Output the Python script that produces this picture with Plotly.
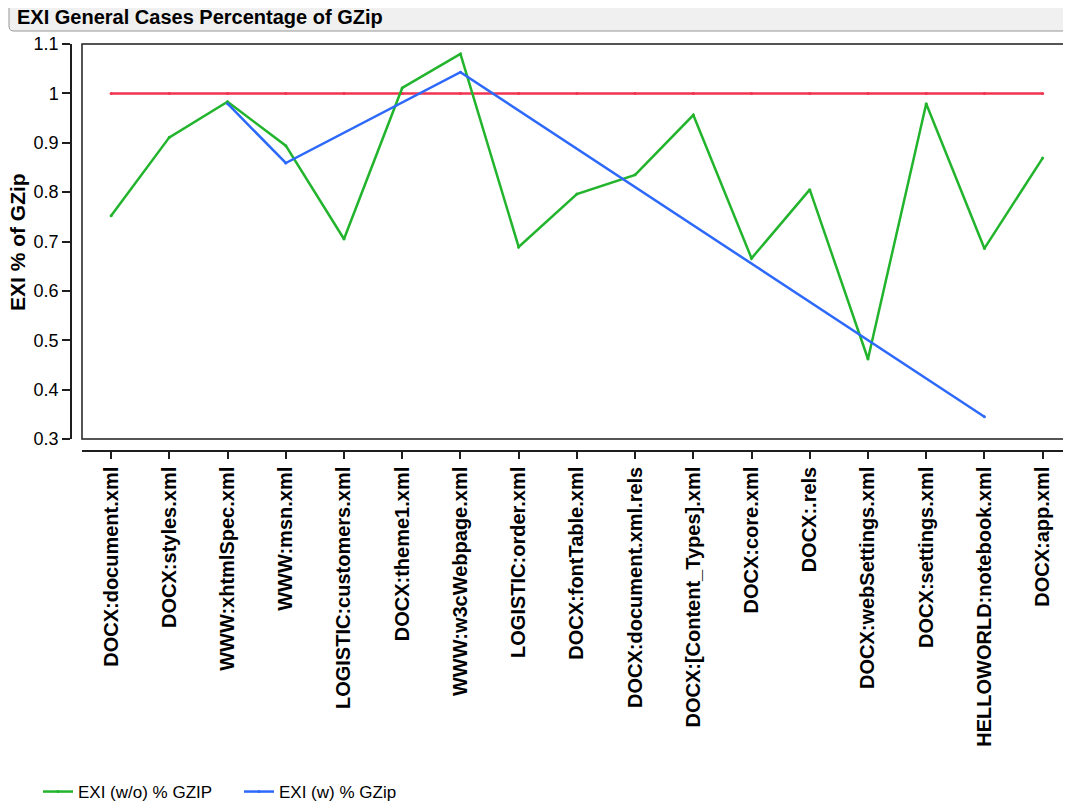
import plotly.graph_objects as go

categories = ["DOCX:document.xml", "DOCX:styles.xml", "WWW:xhtmlSpec.xml", "WWW:msn.xml",
              "LOGISTIC:customers.xml", "DOCX:theme1.xml", "WWW:w3cWebpage.xml", "LOGISTIC:order.xml",
              "DOCX:fontTable.xml", "DOCX:document.xml.rels", "DOCX:[Content_Types].xml", "DOCX:core.xml",
              "DOCX:.rels", "DOCX:webSettings.xml", "DOCX:settings.xml", "HELLOWORLD:notebook.xml",
              "DOCX:app.xml"]
exi_wo = [0.752, 0.911, 0.983, 0.894, 0.705, 1.011, 1.080, 0.689, 0.796, 0.835, 0.956, 0.666,
          0.805, 0.462, 0.979, 0.686, 0.869]
exi_w = [None, None, 0.979, 0.859, None, None, 1.043, None, None, None, None, None,
         None, None, None, 0.345, None]
gzip = [1.0] * 17

GREEN = "rgb(34,180,44)"
BLUE = "rgb(45,105,250)"
RED = "rgb(240,52,80)"
FONT = "Liberation Sans, Arial, sans-serif"

# the page body has an 8px margin; screen coordinates are offset by it
OFF = 8
W, H = 1071 - OFF, 805 - OFF
ML, MR, MT, MB = 12, 0, 36, 330
PW = W - ML - MR
PH = H - MT - MB


def px_x(p):  # screen pixel -> paper x
    return (p - OFF - ML) / PW


def px_y(p):  # screen pixel -> paper y
    return (H - MB - (p - OFF)) / PH


fig = go.Figure()
fig.add_trace(go.Scatter(x=categories, y=gzip, mode="lines+markers", name="GZip",
                         line=dict(color=RED, width=2.5), marker=dict(size=3, color=RED),
                         showlegend=False))
fig.add_trace(go.Scatter(x=categories, y=exi_wo, mode="lines+markers", name="EXI (w/o) % GZIP",
                         line=dict(color=GREEN, width=2.5), marker=dict(size=3, color=GREEN)))
fig.add_trace(go.Scatter(x=categories, y=exi_w, mode="lines+markers", name="EXI (w) % GZip",
                         connectgaps=True,
                         line=dict(color=BLUE, width=2.5), marker=dict(size=3, color=BLUE)))

# title box (rounded)
x0, x1, y0, y1, r = 9, 1080, 3, 31, 5
path = (f"M {px_x(x0 + r)},{px_y(y0)} L {px_x(x1 - r)},{px_y(y0)} "
        f"Q {px_x(x1)},{px_y(y0)} {px_x(x1)},{px_y(y0 + r)} L {px_x(x1)},{px_y(y1 - r)} "
        f"Q {px_x(x1)},{px_y(y1)} {px_x(x1 - r)},{px_y(y1)} L {px_x(x0 + r)},{px_y(y1)} "
        f"Q {px_x(x0)},{px_y(y1)} {px_x(x0)},{px_y(y1 - r)} L {px_x(x0)},{px_y(y0 + r)} "
        f"Q {px_x(x0)},{px_y(y0)} {px_x(x0 + r)},{px_y(y0)} Z")
fig.add_shape(type="path", path=path, xref="paper", yref="paper",
              fillcolor="rgb(240,240,240)", line=dict(color="rgb(150,150,150)", width=1), layer="below")

# plot frame
fig.add_shape(type="rect", xref="x domain", yref="y domain", x0=0, x1=1, y0=0, y1=1,
              line=dict(color="rgb(30,30,30)", width=1.5))

fig.update_layout(
    width=W, height=H,
    margin=dict(l=ML, r=MR, t=MT, b=MB, autoexpand=False),
    plot_bgcolor="white", paper_bgcolor="white",
    font=dict(family=FONT, color="black"),
    title=dict(text="EXI General Cases Percentage of GZip", x=(17 - OFF) / W, xanchor="left",
               y=1 - (17 - OFF) / H, yanchor="middle", xref="container", yref="container",
               automargin=False,
               font=dict(size=20, weight="bold", color="black", family=FONT)),
    xaxis=dict(type="category", categoryorder="array", categoryarray=categories,
               range=[-0.5, 16.47], domain=[px_x(82), px_x(1070)],
               anchor="free", position=px_y(451), automargin=False,
               showline=True, linecolor="rgb(30,30,30)", linewidth=1.5,
               ticks="outside", ticklen=7, tickwidth=1.5, tickcolor="rgb(30,30,30)",
               tickangle=-90, tickfont=dict(size=20, weight="bold", family=FONT),
               showgrid=False, zeroline=False),
    yaxis=dict(range=[0.3, 1.1], dtick=0.1, tick0=0.3, domain=[px_y(439), 1],
               anchor="free", position=px_x(71), automargin=False,
               showline=True, linecolor="rgb(30,30,30)", linewidth=1.5,
               ticks="outside", ticklen=8, tickwidth=1.5, tickcolor="rgb(30,30,30)",
               tickfont=dict(size=18, family=FONT),
               showgrid=False, zeroline=False),
    legend=dict(orientation="h", x=px_x(38), xanchor="left", y=px_y(792), yanchor="middle",
                entrywidth=156, entrywidthmode="pixels",
                font=dict(size=17, family=FONT), bgcolor="rgba(0,0,0,0)"),
    annotations=[dict(text="<b>EXI % of GZip</b>", textangle=-90, xref="paper", yref="paper",
                      x=px_x(18), y=px_y(242), xanchor="center", yanchor="middle",
                      showarrow=False, font=dict(size=21, family=FONT, color="black"))],
)

fig.write_html("out.html")
